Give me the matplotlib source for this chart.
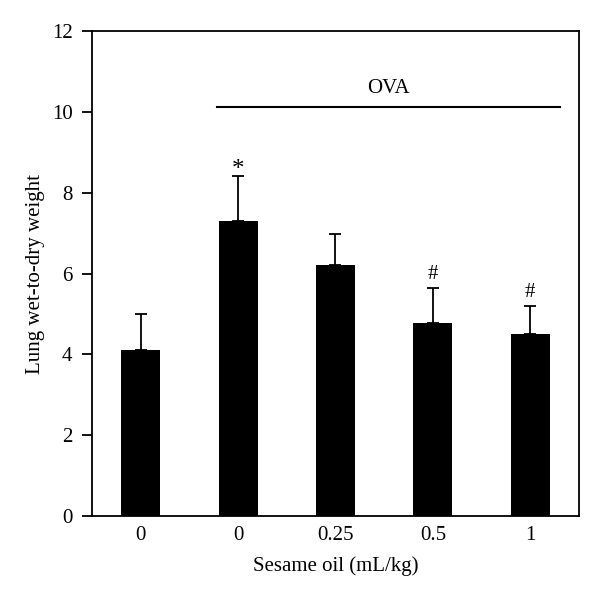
import numpy as np
import matplotlib.pyplot as plt

plt.rcParams['font.family'] = ['Liberation Serif', 'DejaVu Serif']

groups = ['0', '0', '0.25', '0.5', '1']
means = [4.1, 7.3, 6.2, 4.77, 4.5]
upper_err = [0.9, 1.1, 0.77, 0.86, 0.7]
marks = ['', '*', '', '#', '#']
yticks = [0, 2, 4, 6, 8, 10, 12]

fig = plt.figure(figsize=(6, 5.96), dpi=100)
ax = fig.add_axes([0.1533, 0.1342, 0.8117, 0.8138])

x = np.arange(len(groups))
ax.bar(x, means, width=0.4, color='black', zorder=2)
ax.errorbar(x, means, yerr=[np.zeros(len(means)), upper_err], fmt='none',
            ecolor='black', elinewidth=1.3, capsize=4, capthick=1.3, zorder=1)
for xi, m, e, s in zip(x, means, upper_err, marks):
    if s == '*':
        ax.text(xi, m + e - 0.12, s, ha='center', va='bottom', fontsize=18)
    elif s:
        ax.text(xi, m + e + 0.1, s, ha='center', va='bottom', fontsize=15)

# OVA bracket
ax.plot([0.78, 4.31], [10.12, 10.12], color='black', lw=1.5)
ax.text(2.54, 10.35, 'OVA', ha='center', va='bottom', fontsize=15)

ax.set_xlim(-0.5, 4.5)
ax.set_ylim(0, 12)
ax.set_xticks(x)
ax.set_xticklabels(groups)
ax.set_yticks(yticks)
ax.tick_params(axis='x', length=0, pad=7, labelsize=15)
ax.tick_params(axis='y', direction='out', length=7, width=1.3, labelsize=15, pad=7)
for sp in ax.spines.values():
    sp.set_linewidth(1.3)
ax.set_xlabel('Sesame oil (mL/kg)', fontsize=15, labelpad=8)
ax.set_ylabel('Lung wet-to-dry weight', fontsize=15, labelpad=5)

fig.savefig('out.png', dpi=100)
